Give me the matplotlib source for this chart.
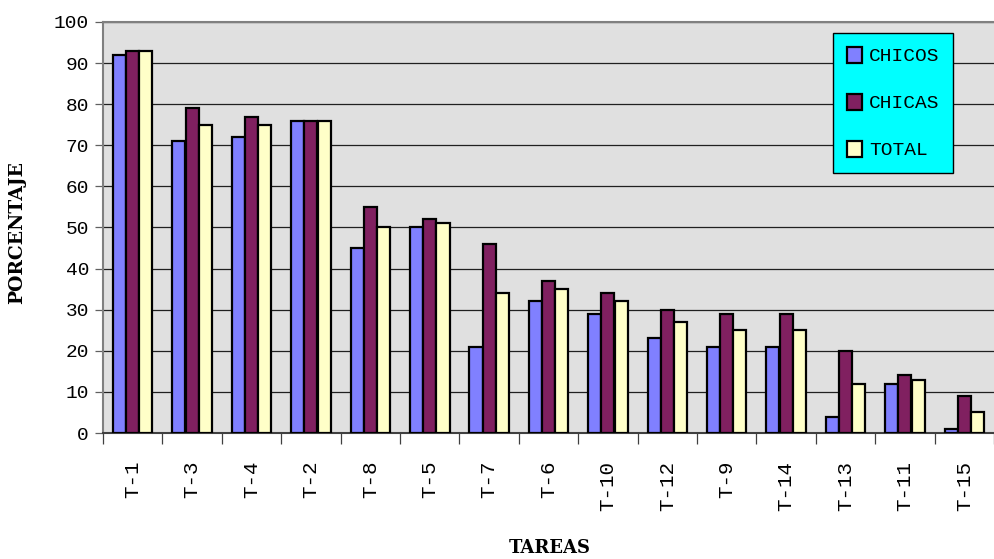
import numpy as np
import matplotlib.pyplot as plt

# Porcentajes por tarea
tareas = ["T-1", "T-3", "T-4", "T-2", "T-8", "T-5", "T-7", "T-6",
          "T-10", "T-12", "T-9", "T-14", "T-13", "T-11", "T-15"]
chicos = [92, 71, 72, 76, 45, 50, 21, 32, 29, 23, 21, 21, 4, 12, 1]
chicas = [93, 79, 77, 76, 55, 52, 46, 37, 34, 30, 29, 29, 20, 14, 9]
total = [93, 75, 75, 76, 50, 51, 34, 35, 32, 27, 25, 25, 12, 13, 5]

series = [("CHICOS", chicos, "#8080FF"),
          ("CHICAS", chicas, "#802060"),
          ("TOTAL", total, "#FFFFC8")]

mono = "Liberation Mono"
titlefont = "DejaVu Serif"

fig = plt.figure(figsize=(9.94, 5.59), dpi=100)
ax = fig.add_axes([103 / 994, 126 / 559, 891 / 994, 411 / 559])
ax.set_facecolor("#E0E0E0")

x = np.arange(len(tareas))
w = 1 / 4.5
for i, (name, vals, col) in enumerate(series):
    ax.bar(x + (i - 1) * w, vals, w, color=col, edgecolor="black",
           linewidth=1.6, label=name, zorder=3)

ax.set_xlim(-0.5, len(tareas) - 0.5)
ax.set_ylim(0, 100)
ax.set_yticks(range(0, 101, 10))
ax.yaxis.grid(True, color="#202020", linewidth=0.9, zorder=0)
ax.tick_params(axis="y", length=6, width=0.9, color="#606060", pad=4,
               labelsize=14)
for t in ax.get_yticklabels():
    t.set_family(mono)

# ticks on category boundaries, labels at centers
ax.set_xticks(np.arange(-0.5, len(tareas)), minor=False)
ax.set_xticklabels([])
ax.set_xticks(x, minor=True)
ax.set_xticklabels(tareas, minor=True, rotation=90, family=mono,
                   fontsize=15)
ax.tick_params(axis="x", which="major", length=8, width=0.9, color="#404040")
ax.tick_params(axis="x", which="minor", length=0, pad=20)

for s in ("left", "top"):
    ax.spines[s].set_color("#808080")
    ax.spines[s].set_linewidth(1.5)
ax.spines["right"].set_visible(False)
ax.spines["bottom"].set_color("#404040")
ax.spines["bottom"].set_linewidth(1.5)

fig.text(17 / 994, 1 - 232 / 559, "PORCENTAJE", family=titlefont,
         fontweight="bold", fontsize=13.5, rotation=90,
         ha="center", va="center")
fig.text(550 / 994, 1 - 548 / 559, "TAREAS", family=titlefont,
         fontweight="bold", fontsize=13, ha="center", va="center")

leg = ax.legend(loc="upper right", prop={"family": mono, "size": 14},
                facecolor="#00FFFF", edgecolor="black", framealpha=1,
                fancybox=False, handlelength=0.8, handleheight=0.9,
                handletextpad=0.35, labelspacing=1.45, borderpad=0.7,
                borderaxespad=0)
leg.get_frame().set_linewidth(1.0)
leg.set_bbox_to_anchor((953 / 994, 1 - 33 / 559), transform=fig.transFigure)

fig.savefig("out.png", dpi=100)
